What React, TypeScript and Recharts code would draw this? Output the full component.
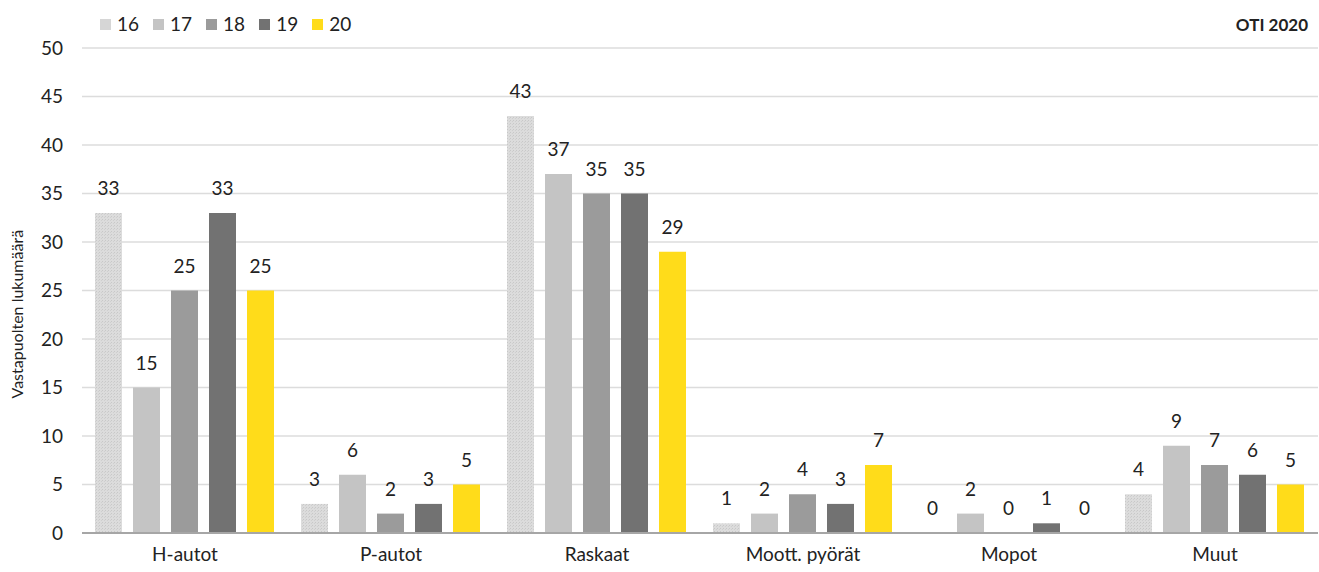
import React from 'react';
import { BarChart, Bar, XAxis, YAxis, CartesianGrid, LabelList } from 'recharts';

const categories = ['H-autot', 'P-autot', 'Raskaat', 'Moott. pyörät', 'Mopot', 'Muut'];
const s16 = [33, 3, 43, 1, 0, 4];
const s17 = [15, 6, 37, 2, 2, 9];
const s18 = [25, 2, 35, 4, 0, 7];
const s19 = [33, 3, 35, 3, 1, 6];
const s20 = [25, 5, 29, 7, 0, 5];
const yTicks = [0, 5, 10, 15, 20, 25, 30, 35, 40, 45, 50];

const data = categories.map((c, i) => ({ name: c, v16: s16[i], v17: s17[i], v18: s18[i], v19: s19[i], v20: s20[i] }));

const FONT = 'Lato, "Open Sans", sans-serif';

const series = [
  { key: 'v16', label: '16', fill: 'url(#dots16)', legend: '#d6d6d6' },
  { key: 'v17', label: '17', fill: '#c4c4c4', legend: '#c4c4c4' },
  { key: 'v18', label: '18', fill: '#9b9b9b', legend: '#9b9b9b' },
  { key: 'v19', label: '19', fill: '#727272', legend: '#727272' },
  { key: 'v20', label: '20', fill: '#ffdc1a', legend: '#ffdc1a' },
];

const LegendBox = () => (
  <div style={{ position: 'absolute', left: 100, top: 13, display: 'flex', fontFamily: FONT, fontSize: 19, color: '#222', lineHeight: '22px' }}>
    {series.map((s) => (
      <div key={s.key} style={{ display: 'flex', alignItems: 'center', marginRight: 14 }}>
        <div style={{ width: 11, height: 11, background: s.legend, marginRight: 6 }} />
        <span>{s.label}</span>
      </div>
    ))}
  </div>
);

export default function App() {
  return (
    <div style={{ position: 'absolute', left: 0, top: 0, width: 1319, height: 572, background: '#fff' }}>
      <BarChart
        width={1319}
        height={572}
        data={data}
        margin={{ top: 48, right: 1, left: 0, bottom: 0 }}
        barGap={11}
        barCategoryGap={13}
      >
        <defs>
          <pattern id="dots16" width="3" height="3" patternUnits="userSpaceOnUse">
            <rect width="3" height="3" fill="#dcdcdc" />
            <rect x="0" y="0" width="1" height="1" fill="#c8c8c8" />
            <rect x="2" y="1" width="1" height="1" fill="#cfcfcf" />
          </pattern>
        </defs>
        <CartesianGrid horizontal vertical={false} stroke="#dcdcdc" strokeWidth={1.5} />
        <XAxis
          dataKey="name"
          tickLine={false}
          tickSize={0}
          tickMargin={15}
          height={39}
          axisLine={{ stroke: '#a6a6a6', strokeWidth: 2 }}
          tick={{ fill: '#222', fontSize: 19, fontFamily: FONT }}
        />
        <YAxis
          domain={[0, 50]}
          ticks={yTicks}
          interval={0}
          width={82}
          axisLine={false}
          tickLine={false}
          tickSize={0}
          tickMargin={19}
          tick={{ fill: '#222', fontSize: 19, fontFamily: FONT }}
          label={{
            value: 'Vastapuolten lukumäärä',
            angle: -90,
            position: 'insideLeft',
            dx: 12,
            dy: 108,
            style: { fill: '#222', fontSize: 16, fontFamily: FONT },
          }}
        />
        {series.map((s) => (
          <Bar
            key={s.key}
            dataKey={s.key}
            name={s.label}
            fill={s.fill}
            isAnimationActive={false}
            minPointSize={(v: number) => (v === 0 ? 0.01 : 0)}
          >
            <LabelList dataKey={s.key} position="top" offset={18} style={{ fill: '#222', fontSize: 19, fontFamily: FONT }} />
          </Bar>
        ))}
        <text x={1308} y={31} textAnchor="end" style={{ fontFamily: FONT, fontSize: 17, fontWeight: 700, fill: '#222' }}>
          OTI 2020
        </text>
      </BarChart>
      <LegendBox />
    </div>
  );
}
